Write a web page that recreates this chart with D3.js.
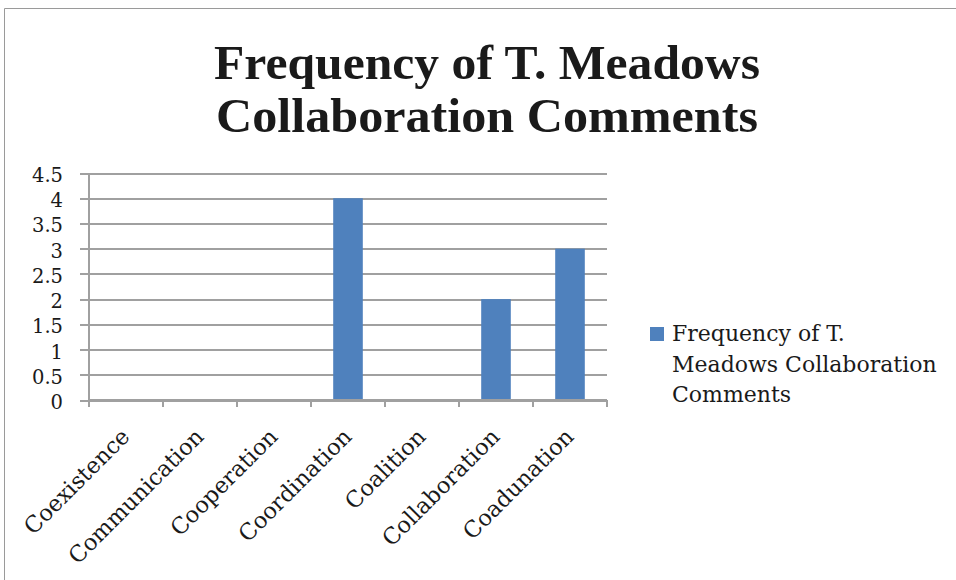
<!DOCTYPE html>
<html><head><meta charset="utf-8">
<script src="https://cdn.jsdelivr.net/npm/d3@7"></script>
<style>
body{margin:0;background:#fff;}
svg{display:block;}
text{font-family:"DejaVu Serif","Liberation Serif",serif;fill:#1a1a1a;}
</style></head>
<body><svg id="c" width="956" height="580"></svg>
<script>
const categories = ["Coexistence","Communication","Cooperation","Coordination","Coalition","Collaboration","Coadunation"];
const values = [0,0,0,4,0,2,3];
const yTicks = [0,0.5,1,1.5,2,2.5,3,3.5,4,4.5];
const titleLines = ["Frequency of T. Meadows","Collaboration Comments"];
const legendLines = ["Frequency of T.","Meadows Collaboration","Comments"];

const svg = d3.select("#c");
const gridColor = "#a0a0a0";

// outer border
svg.append("path").attr("d","M4.5,580 V8.5 H956").attr("fill","none").attr("stroke","#9a9a9a").attr("stroke-width",1);

// title
const titleW = [546, 542];
titleLines.forEach((t,i)=>{
  svg.append("text").attr("x",487).attr("y",79 + i*53)
    .attr("text-anchor","middle").attr("font-size",49).attr("font-weight","bold")
    .style("font-family",'"Liberation Serif",serif')
    .attr("textLength",titleW[i]).attr("lengthAdjust","spacingAndGlyphs")
    .text(t);
});

const xStep = d3.scaleBand().domain(categories).range([89,607]);
const y = d3.scaleLinear().domain([0,4.5]).range([400,173]);

// gridlines
const grid = svg.append("g").attr("transform","translate(89,0)")
  .call(d3.axisLeft(y).tickValues(yTicks).tickSize(-518).tickFormat(""));
grid.select(".domain").remove();
grid.selectAll("line").attr("stroke",gridColor).attr("stroke-width",2).attr("shape-rendering","crispEdges");

// left tick marks + labels
const yAx = svg.append("g").attr("transform","translate(89,0)")
  .call(d3.axisLeft(y).tickValues(yTicks).tickSize(9).tickPadding(17).tickFormat(d3.format("")));
yAx.select(".domain").remove();
yAx.selectAll("line").attr("stroke",gridColor).attr("stroke-width",2).attr("shape-rendering","crispEdges");
yAx.selectAll("text").attr("font-size",19.5).attr("dy",8.5)
  .style("font-family",'"DejaVu Serif",serif').attr("fill","#1a1a1a");

// bars
const barW = xStep.bandwidth()/2.5;
svg.append("g").selectAll("rect").data(values).join("rect")
  .attr("x",(d,i)=>xStep(categories[i]) + (xStep.bandwidth()-barW)/2)
  .attr("width",barW)
  .attr("y",d=>y(d))
  .attr("height",d=>y(0)-y(d))
  .attr("fill","#4F81BD");

// y axis line
svg.append("line").attr("x1",89).attr("x2",89).attr("y1",173).attr("y2",406)
  .attr("stroke",gridColor).attr("stroke-width",2).attr("shape-rendering","crispEdges");
// x axis line
svg.append("line").attr("x1",89).attr("x2",607).attr("y1",400).attr("y2",400)
  .attr("stroke",gridColor).attr("stroke-width",2).attr("shape-rendering","crispEdges");

// x ticks at band boundaries
const bounds = categories.map(c=>xStep(c)).concat([607]);
svg.append("g").selectAll("line").data(bounds).join("line")
  .attr("x1",d=>d).attr("x2",d=>d).attr("y1",400).attr("y2",407)
  .attr("stroke",gridColor).attr("stroke-width",2).attr("shape-rendering","crispEdges");

// x labels
svg.append("g").selectAll("text").data(categories).join("text")
  .attr("transform",d=>`translate(${xStep(d)+xStep.bandwidth()/2+5},${438}) rotate(-45)`)
  .attr("text-anchor","end").attr("font-size",22.5)
  .text(d=>d);

// legend
svg.append("rect").attr("x",650).attr("y",327).attr("width",14).attr("height",14).attr("fill","#4F81BD");
legendLines.forEach((t,i)=>{
  svg.append("text").attr("x",672).attr("y",341 + i*30.5).attr("font-size",22).text(t);
});
</script></body></html>
